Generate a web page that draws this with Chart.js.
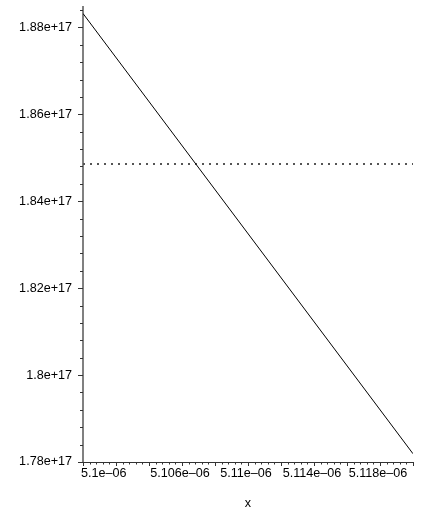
<!DOCTYPE html>
<html><head><meta charset="utf-8">
<script src="https://cdn.jsdelivr.net/npm/chart.js@4.4.0/dist/chart.umd.min.js"></script>
<style>html,body{margin:0;padding:0;background:#fff;} #wrap{width:421px;height:512px;position:relative;}</style>
</head><body><div id="wrap"><canvas id="c"></canvas></div>
<script>
// ---- data ----
const xValues = [5.1e-6, 5.12e-6];
const curveValues = [1.8832e17, 1.7819e17];
const refValues = [1.8486e17, 1.8486e17];

// ---- axis ticks ----
const xMin = 5.1e-6, xMax = 5.12e-6;
const xMinorStep = 0.0004e-6, xMajorEvery = 5;
const xLabelValues = [5.1e-6, 5.106e-6, 5.11e-6, 5.114e-6, 5.118e-6];
const xLabelTexts = ['5.1e\u201306', '5.106e\u201306', '5.11e\u201306', '5.114e\u201306', '5.118e\u201306'];

const yMin = 1.78e17, yMax = 1.8847e17;
const yMinorStep = 0.004e17, yMajorEvery = 5;
const yLabelValues = [1.78e17, 1.8e17, 1.82e17, 1.84e17, 1.86e17, 1.88e17];
const yLabelTexts = ['1.78e+17', '1.8e+17', '1.82e+17', '1.84e+17', '1.86e+17', '1.88e+17'];

function buildTicks(min, max, step, majorEvery) {
  const out = [];
  const n = Math.floor((max - min) / step + 1e-6);
  for (let i = 0; i <= n; i++) out.push({value: min + i * step, isMajor: i % majorEvery === 0});
  return out;
}
function findLabel(v, vals, texts, tol) {
  for (let i = 0; i < vals.length; i++) if (Math.abs(vals[i] - v) < tol) return texts[i];
  return '';
}

const tickMarks = {
  id: 'tickMarks',
  afterDraw(chart) {
    const ctx = chart.ctx, xs = chart.scales.x, ys = chart.scales.y;
    ctx.save();
    ctx.strokeStyle = '#333';
    ctx.lineWidth = 1;
    ys.ticks.forEach(t => {
      const p = Math.round(ys.getPixelForValue(t.value)) + 0.5;
      const len = t.isMajor ? 5 : 3;
      ctx.beginPath(); ctx.moveTo(ys.right - len, p); ctx.lineTo(ys.right, p); ctx.stroke();
    });
    xs.ticks.forEach(t => {
      const p = Math.round(xs.getPixelForValue(t.value)) + 0.5;
      const len = t.isMajor ? 4 : 2.5;
      ctx.beginPath(); ctx.moveTo(p, xs.top); ctx.lineTo(p, xs.top + len); ctx.stroke();
    });
    ctx.restore();
  }
};

const font = {family: '"Liberation Sans", Arial, sans-serif', size: 12.6};

new Chart(document.getElementById('c'), {
  type: 'line',
  data: {
    datasets: [
      {
        data: xValues.map((x, i) => ({x, y: curveValues[i]})),
        borderColor: '#000', borderWidth: 1, pointRadius: 0, fill: false
      },
      {
        data: xValues.map((x, i) => ({x, y: refValues[i]})),
        borderColor: '#555', borderWidth: 2, borderDash: [2, 5], pointRadius: 0, fill: false
      }
    ]
  },
  options: {
    responsive: true, maintainAspectRatio: false, animation: false,
    layout: {padding: {left: 0, right: 8, top: 7, bottom: 0}},
    plugins: {legend: {display: false}, tooltip: {enabled: false}},
    scales: {
      x: {
        type: 'linear', min: xMin, max: xMax,
        afterBuildTicks: s => { s.ticks = buildTicks(xMin, xMax, xMinorStep, xMajorEvery); },
        afterFit: s => { s.height = 50; s.paddingLeft = 0; s.paddingRight = 0; },
        grid: {display: true, drawOnChartArea: false, drawTicks: false},
        border: {display: true, color: '#333', width: 1},
        ticks: {
          autoSkip: false, maxRotation: 0, minRotation: 0, align: 'inner', padding: 4,
          labelOffset: -2, color: '#000', font,
          callback: v => findLabel(v, xLabelValues, xLabelTexts, 1e-12)
        },
        title: {display: true, text: 'x', color: '#000', font, padding: {top: 0, bottom: 1}}
      },
      y: {
        type: 'linear', min: yMin, max: yMax,
        afterBuildTicks: s => { s.ticks = buildTicks(yMin, yMax, yMinorStep, yMajorEvery); },
        afterFit: s => { s.width = 83; s.paddingTop = 0; s.paddingBottom = 0; },
        grid: {display: true, drawOnChartArea: false, drawTicks: false},
        border: {display: true, color: '#808080', width: 2},
        ticks: {
          autoSkip: false, padding: 11, color: '#000', font,
          callback: v => findLabel(v, yLabelValues, yLabelTexts, 1e13)
        }
      }
    }
  },
  plugins: [tickMarks]
});
</script>
</body></html>
